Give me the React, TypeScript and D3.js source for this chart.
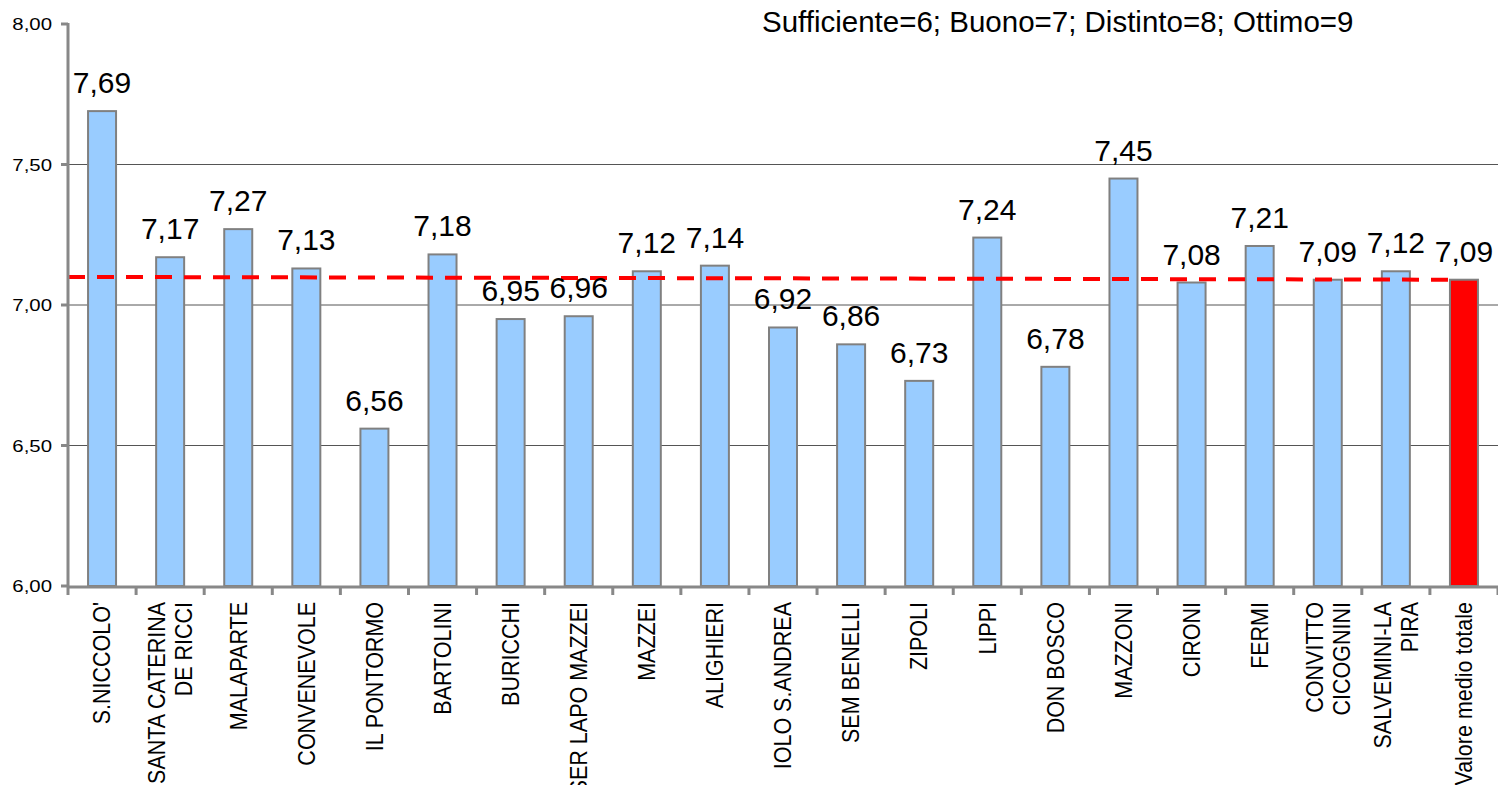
import React, { useEffect, useRef } from "react";
import * as d3 from "d3";

// categories (line breaks as in the original labels)
const schools = [
  "S.NICCOLO'",
  "SANTA CATERINA\nDE RICCI",
  "MALAPARTE",
  "CONVENEVOLE",
  "IL PONTORMO",
  "BARTOLINI",
  "BURICCHI",
  "SER LAPO MAZZEI",
  "MAZZEI",
  "ALIGHIERI",
  "IOLO S.ANDREA",
  "SEM BENELLI",
  "ZIPOLI",
  "LIPPI",
  "DON BOSCO",
  "MAZZONI",
  "CIRONI",
  "FERMI",
  "CONVITTO\nCICOGNINI",
  "SALVEMINI-LA\nPIRA",
  "Valore medio totale",
];

const scores = [
  7.69, 7.17, 7.27, 7.13, 6.56, 7.18, 6.95, 6.96, 7.12, 7.14, 6.92, 6.86, 6.73,
  7.24, 6.78, 7.45, 7.08, 7.21, 7.09, 7.12, 7.09,
];

// reference line (start, end)
const avgLine = [7.1, 7.09];

const yTicks = [6, 6.5, 7, 7.5, 8];
const note = "Sufficiente=6; Buono=7; Distinto=8; Ottimo=9";

const W = 1498;
const H = 785;
const FONT = "'Liberation Sans', Arial, sans-serif";

export default function App() {
  const ref = useRef<SVGSVGElement>(null);

  useEffect(() => {
    const svg = d3.select(ref.current);
    svg.selectAll("*").remove();

    const margin = { left: 68, right: 0, top: 24, bottom: 199 };
    const x0 = margin.left,
      x1 = W - margin.right,
      y0 = margin.top,
      y1 = H - margin.bottom;

    const it = d3.formatLocale({
      decimal: ",",
      thousands: ".",
      grouping: [3],
      currency: ["", "€"],
    });
    const fmt = it.format(".2f");

    const x = d3.scaleBand().domain(schools).range([x0, x1]).paddingInner(0).paddingOuter(0);
    const y = d3.scaleLinear().domain([6, 8]).range([y1, y0]);

    // gridlines
    svg
      .append("g")
      .selectAll("line")
      .data(yTicks.filter((t) => t > 6 && t < 8))
      .join("line")
      .attr("x1", x0)
      .attr("x2", x1)
      .attr("y1", (d) => y(d))
      .attr("y2", (d) => y(d))
      .attr("stroke", "#555")
      .attr("stroke-width", 1);

    // bars
    const bw = 28;
    svg
      .append("g")
      .selectAll("rect")
      .data(scores)
      .join("rect")
      .attr("x", (d, i) => x(schools[i])! + x.bandwidth() / 2 - bw / 2)
      .attr("y", (d) => y(d))
      .attr("width", bw)
      .attr("height", (d) => y1 - y(d))
      .attr("fill", (d, i) => (i === schools.length - 1 ? "#ff0000" : "#99ccff"))
      .attr("stroke", "#808080")
      .attr("stroke-width", 2);

    // average dashed line
    const lx = [x0, x(schools[schools.length - 1])! + x.bandwidth() / 2 - 6];
    svg
      .append("path")
      .attr(
        "d",
        d3.line<number>().x((d, i) => lx[i]).y((d) => y(d))(avgLine)
      )
      .attr("stroke", "#ff0000")
      .attr("stroke-width", 4)
      .attr("stroke-dasharray", "17 12")
      .attr("fill", "none");

    // value labels
    svg
      .append("g")
      .selectAll("text")
      .data(scores)
      .join("text")
      .attr("x", (d, i) => x(schools[i])! + x.bandwidth() / 2)
      .attr("y", (d) => y(d) - 18)
      .attr("text-anchor", "middle")
      .style("font-family", FONT)
      .style("font-size", "30px")
      .attr("fill", "#000")
      .text((d) => fmt(d));

    // y axis
    svg
      .append("line")
      .attr("x1", x0)
      .attr("x2", x0)
      .attr("y1", y0 - 1)
      .attr("y2", y1 + 1)
      .attr("stroke", "#888")
      .attr("stroke-width", 3);
    const yt = svg.append("g").selectAll("g").data(yTicks).join("g");
    yt.append("line")
      .attr("x1", x0 - 7)
      .attr("x2", x0)
      .attr("y1", (d) => y(d))
      .attr("y2", (d) => y(d))
      .attr("stroke", "#888")
      .attr("stroke-width", 3);
    yt.append("text")
      .attr("transform", (d) => `translate(52, ${y(d) + 6}) scale(1.2, 1)`)
      .attr("text-anchor", "end")
      .style("font-family", FONT)
      .style("font-size", "17px")
      .attr("fill", "#000")
      .text((d) => fmt(d));

    // x axis
    svg
      .append("line")
      .attr("x1", x0 - 1)
      .attr("x2", x1)
      .attr("y1", y1 + 1)
      .attr("y2", y1 + 1)
      .attr("stroke", "#888")
      .attr("stroke-width", 3);
    svg
      .append("g")
      .selectAll("line")
      .data(d3.range(schools.length + 1))
      .join("line")
      .attr("x1", (i) => x0 + i * x.bandwidth())
      .attr("x2", (i) => x0 + i * x.bandwidth())
      .attr("y1", y1 + 1)
      .attr("y2", y1 + 9)
      .attr("stroke", "#888")
      .attr("stroke-width", 3);

    // category labels, rotated
    const lh = 24.5;
    const cat = svg
      .append("g")
      .selectAll("text")
      .data(schools)
      .join("text")
      .attr(
        "transform",
        (d) => `translate(${x(d)! + x.bandwidth() / 2}, ${y1 + 16}) rotate(-90) scale(1, 1.1)`
      )
      .attr("text-anchor", "end")
      .style("font-family", FONT)
      .style("font-size", "21.5px")
      .attr("fill", "#000");
    cat.each(function (d) {
      const lines = d.split("\n");
      const t = d3.select(this);
      lines.forEach((ln, i) => {
        t.append("tspan")
          .attr("x", 0)
          .attr("y", (i - (lines.length - 1) / 2) * lh)
          .attr("dy", "0.35em")
          .text(ln);
      });
    });

    // note
    svg
      .append("text")
      .attr("x", 762)
      .attr("y", 32)
      .style("font-family", FONT)
      .style("font-size", "29.5px")
      .attr("fill", "#000")
      .text(note);
  }, []);

  return (
    <svg
      ref={ref}
      width={W}
      height={H}
      style={{ position: "absolute", left: 0, top: 0, background: "#fff" }}
    ></svg>
  );
}
